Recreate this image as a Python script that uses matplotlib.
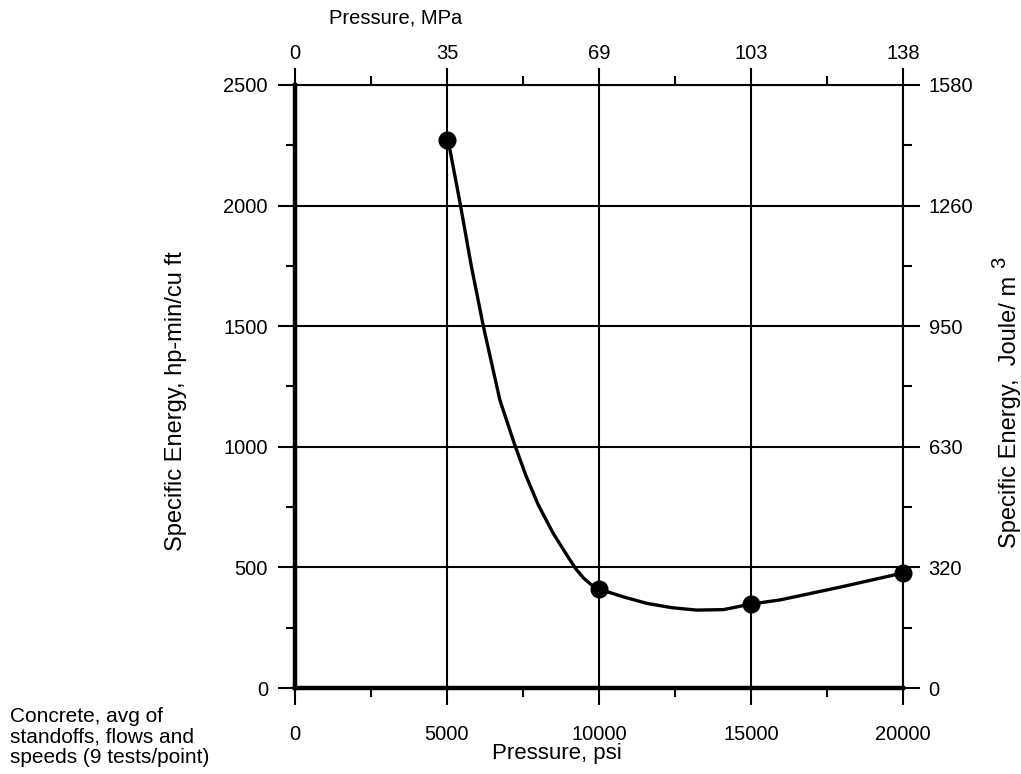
import matplotlib
matplotlib.use("Agg")
import matplotlib.pyplot as plt
from matplotlib.ticker import MultipleLocator, FixedLocator

plt.rcParams['font.family'] = ['Liberation Sans', 'DejaVu Sans']

# measured points (psi, hp-min/cu ft)
pressure_psi = [5000, 10000, 15000, 20000]
energy_hp = [2270, 410, 348, 477]

# fitted curve
curve_psi = [5000, 5100, 5430, 5800, 6200, 6740, 7240, 7600, 8000, 8500,
             9000, 9250, 9500, 9750, 10000, 10800, 11570, 12400, 13210,
             14100, 15000, 15950, 18000, 20000]
curve_hp = [2270, 2230, 2011, 1750, 1498, 1194, 1004, 880, 760, 640,
            540, 492, 455, 428, 410, 378, 351, 333, 323,
            325, 348, 365, 420, 477]

psi_ticks = [0, 5000, 10000, 15000, 20000]
mpa_labels = ['0', '35', '69', '103', '138']
hp_ticks = [0, 500, 1000, 1500, 2000, 2500]
joule_labels = ['0', '320', '630', '950', '1260', '1580']

FS = 14.5


def main():
    fig = plt.figure(figsize=(10.21, 7.74), dpi=100)
    ax = fig.add_axes([0.2889, 0.1111, 0.5955, 0.7791])

    ax.set_xlim(0, 20000)
    ax.set_ylim(0, 2500)
    ax.set_xticks(psi_ticks)
    ax.set_yticks(hp_ticks)
    ax.xaxis.set_minor_locator(MultipleLocator(2500))
    ax.yaxis.set_minor_locator(MultipleLocator(250))
    ax.grid(which='major', color='black', linewidth=1.5)
    ax.set_axisbelow(True)

    ax.plot(curve_psi, curve_hp, color='black', linewidth=2.4,
            solid_capstyle='round', solid_joinstyle='round', zorder=3)
    ax.plot(pressure_psi, energy_hp, 'o', color='black', markersize=12,
            zorder=4, clip_on=False)

    ax.tick_params(which='major', direction='out', length=12.5, width=1.5,
                   labelsize=FS)
    ax.tick_params(which='minor', direction='out', length=6.5, width=1.5)
    ax.tick_params(axis='x', pad=14)
    ax.tick_params(axis='y', pad=7)

    ax.spines['left'].set_linewidth(3.2)
    ax.spines['bottom'].set_linewidth(3.2)
    ax.spines['top'].set_linewidth(1.5)
    ax.spines['right'].set_linewidth(1.5)

    # top axis: MPa
    axt = ax.twiny()
    axt.set_xlim(0, 20000)
    axt.xaxis.set_major_locator(FixedLocator(psi_ticks))
    axt.set_xticklabels(mpa_labels)
    axt.xaxis.set_minor_locator(MultipleLocator(2500))
    axt.tick_params(which='major', direction='out', length=12.5, width=1.5,
                    labelsize=FS, pad=3)
    axt.tick_params(which='minor', direction='out', length=6.5, width=1.5)
    for s in axt.spines.values():
        s.set_visible(False)

    # right axis: J/m3
    axr = ax.twinx()
    axr.set_ylim(0, 2500)
    axr.yaxis.set_major_locator(FixedLocator(hp_ticks))
    axr.set_yticklabels(joule_labels)
    axr.yaxis.set_minor_locator(MultipleLocator(250))
    axr.tick_params(which='major', direction='out', length=12.5, width=1.5,
                    labelsize=FS, pad=6)
    axr.tick_params(which='minor', direction='out', length=6.5, width=1.5)
    for s in axr.spines.values():
        s.set_visible(False)

    # axis titles placed as figure text
    fig.text(396 / 1021, 1 - 18 / 774, 'Pressure, MPa', fontsize=FS,
             ha='center', va='center')
    fig.text(557 / 1021, 1 - 753 / 774, 'Pressure, psi', fontsize=16,
             ha='center', va='center')
    fig.text(176 / 1021, 1 - 401 / 774, 'Specific Energy, hp-min/cu ft',
             fontsize=17, rotation=90, ha='center', va='center')
    fig.text(1010 / 1021, 1 - 276 / 774, 'Specific Energy,  Joule/ m',
             fontsize=17, rotation=90, ha='center', va='top')
    fig.text(1000 / 1021, 1 - 262 / 774, '3', fontsize=FS, rotation=90,
             ha='center', va='center')
    fig.text(10 / 1021, 1 - 737 / 774,
             'Concrete, avg of\nstandoffs, flows and\nspeeds (9 tests/point)',
             fontsize=15, ha='left', va='center', linespacing=1.1)

    fig.savefig('out.png', dpi=100)


if __name__ == "__main__":
    main()
